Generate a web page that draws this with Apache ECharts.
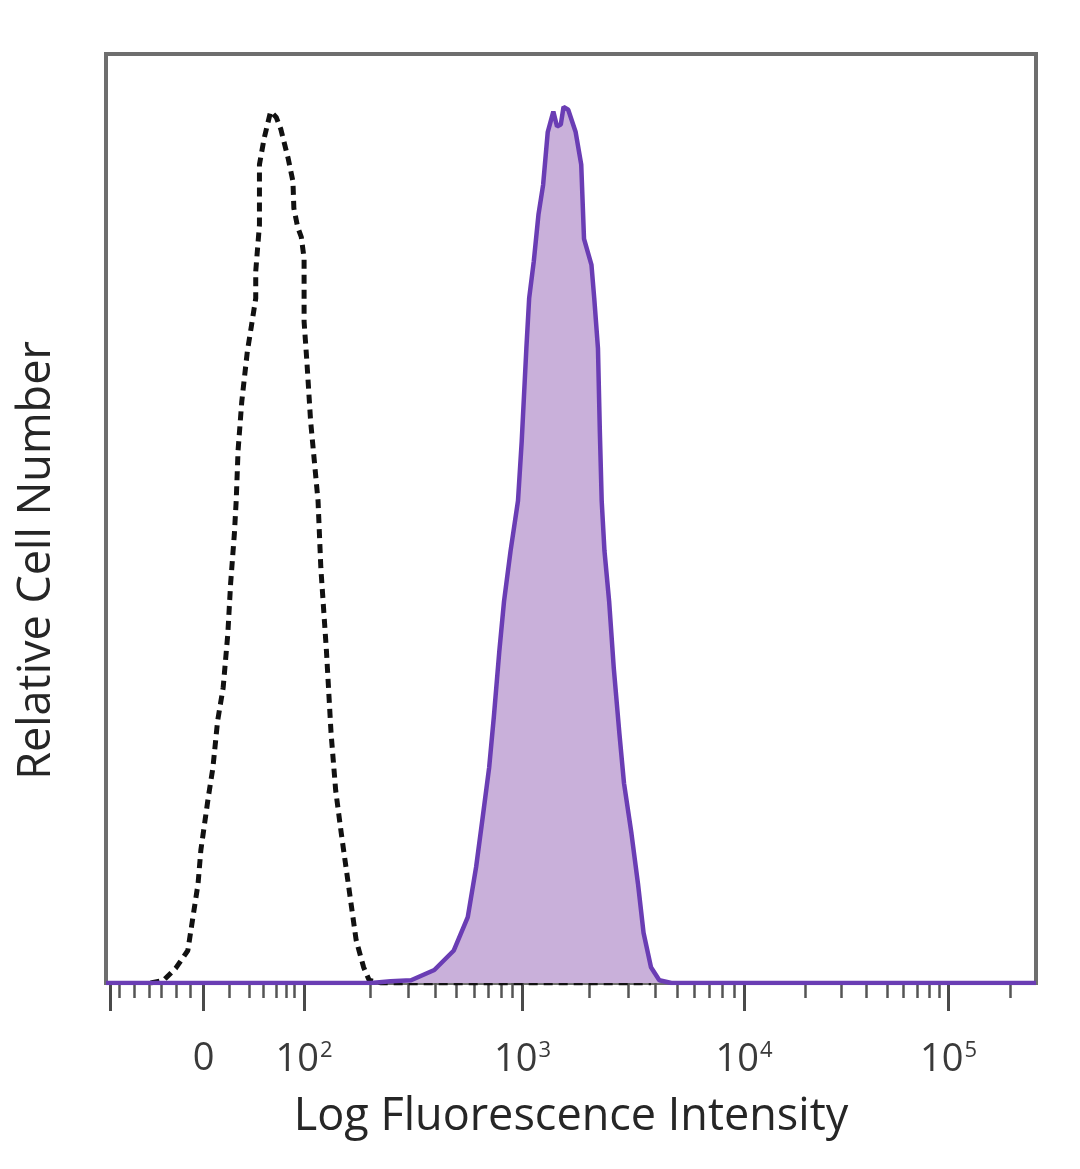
<!DOCTYPE html>
<html><head><meta charset="utf-8">
<script src="https://cdn.jsdelivr.net/npm/echarts@6/dist/echarts.min.js"></script>
<style>html,body{margin:0;padding:0;background:#fff}#c{width:1080px;height:1169px}</style>
</head><body><div id="c"></div>
<script>
// x: display channel (0..1000, biexponential scale), y: % of max count
const majorTicks = [5, 105, 213, 448, 686, 906];
const majorLabels = ['', '0', '10^2', '10^3', '10^4', '10^5'];
const minorTicks = [14, 30, 46, 59, 75, 91, 132, 154, 169, 183, 194, 202,
  284, 325, 354, 377, 396, 411, 425, 437,
  520, 562, 591, 614, 633, 649, 663, 675,
  752, 791, 818, 840, 857, 872, 885, 896, 972];

const isoCh  = [48, 62, 75, 88, 99, 102, 110, 115, 120, 126, 131, 134, 138, 140, 142, 146, 152, 156, 161, 161, 163, 165, 165, 165, 170, 177, 183, 188, 196, 201, 202, 206, 210, 213, 213, 213, 216, 220, 228, 231, 237, 242, 247, 253, 258, 263, 269, 277, 283, 296, 586];
const isoVal = [0, 0.3, 1.6, 3.5, 10.7, 14.3, 20.0, 23.2, 28.2, 31.8, 37.6, 43.0, 48.3, 51.9, 57.3, 62.6, 68.0, 70.5, 73.7, 76.6, 79.1, 81.6, 84.4, 88.1, 90.9, 93.8, 93.2, 91.9, 88.7, 86.3, 83.4, 81.4, 80.3, 78.0, 74.4, 71.2, 66.9, 60.5, 51.9, 44.7, 35.8, 26.9, 20.7, 16.1, 12.5, 8.9, 4.6, 1.7, 0.3, 0, 0];

const stCh  = [0, 285, 306, 328, 353, 374, 389, 398, 405, 412, 417, 423, 428, 435, 443, 447, 452, 455, 460, 465, 470, 475, 481, 485, 489, 492, 497, 505, 511, 514, 522, 525, 529, 531, 533, 536, 541, 546, 552, 557, 565, 572, 578, 586, 595, 608, 1000];
const stVal = [0, 0, 0.2, 0.3, 1.4, 3.5, 7.1, 12.5, 17.8, 23.2, 28.6, 35.8, 41.1, 46.5, 51.9, 58.3, 68.3, 73.7, 77.7, 82.7, 85.9, 91.6, 93.8, 92.2, 92.4, 94.3, 94.0, 91.6, 88.1, 80.1, 77.3, 73.7, 68.3, 59.4, 51.9, 46.5, 41.1, 33.9, 26.9, 21.5, 16.1, 10.7, 5.4, 1.7, 0.3, 0, 0];

const FONT = 'Open Sans';
const chart = echarts.init(document.getElementById('c'));
function fmt(v) {
  const i = majorTicks.indexOf(v);
  const s = i >= 0 ? majorLabels[i] : '';
  if (s.indexOf('^') > 0) { const p = s.split('^'); return '{b|' + p[0] + '}{s|' + p[1] + '}'; }
  return '{b|' + s + '}';
}
chart.setOption({
  animation: false,
  backgroundColor: '#fff',
  grid: { left: 106, top: 54, width: 930, height: 929, show: true, borderColor: '#6e6e6e', borderWidth: 4,
          backgroundColor: 'transparent', outerBoundsMode: 'none', containLabel: false },
  xAxis: [{
    type: 'value', min: 0, max: 1000, position: 'bottom',
    name: 'Log Fluorescence Intensity', nameLocation: 'middle', nameGap: 112,
    nameTextStyle: { fontFamily: FONT, fontSize: 45, fontWeight: 500, color: '#262626' },
    axisLine: { show: false },
    splitLine: { show: false },
    axisTick: { show: true, customValues: majorTicks, length: 28, lineStyle: { color: '#4a4a4a', width: 3 } },
    axisLabel: {
      customValues: majorTicks, margin: 57, formatter: fmt,
      rich: {
        b: { fontFamily: FONT, fontSize: 38, fontWeight: 500, color: '#3a3a3a' },
        s: { fontFamily: FONT, fontSize: 22, fontWeight: 500, color: '#3a3a3a', padding: [0, 0, 18, 1] }
      }
    }
  }, {
    type: 'value', min: 0, max: 1000, position: 'bottom',
    axisLine: { show: false }, splitLine: { show: false },
    axisTick: { show: true, customValues: minorTicks, length: 15, lineStyle: { color: '#555', width: 2.5 } },
    axisLabel: { show: false }
  }],
  yAxis: {
    type: 'value', min: 0, max: 100,
    name: 'Relative Cell Number', nameLocation: 'middle', nameGap: 46, nameRotate: 90,
    nameTextStyle: { fontFamily: FONT, fontSize: 45, fontWeight: 500, color: '#262626', padding: [0, 84, 0, 0] },
    axisLine: { show: false }, axisTick: { show: false }, axisLabel: { show: false }, splitLine: { show: false }
  },
  series: [{
    type: 'line', name: 'Isotype', xAxisIndex: 0,
    data: isoCh.map((c, i) => [c, isoVal[i]]),
    symbol: 'none', z: 2,
    lineStyle: { color: '#111', width: 5, type: [9, 6] }
  }, {
    type: 'line', name: 'Stained', xAxisIndex: 0,
    data: stCh.map((c, i) => [c, stVal[i]]),
    symbol: 'none', z: 3,
    lineStyle: { color: '#6a3db4', width: 4.5 },
    areaStyle: { color: '#c9b0da', opacity: 1 }
  }]
});
</script></body></html>
